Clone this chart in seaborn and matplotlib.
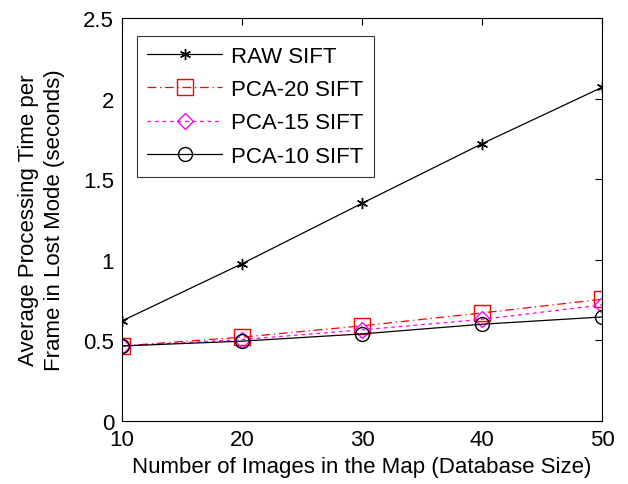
import matplotlib
matplotlib.use("Agg")
import matplotlib.pyplot as plt
import seaborn as sns
import pandas as pd

x_vals = [10, 20, 30, 40, 50]
raw_sift = [0.62, 0.975, 1.35, 1.72, 2.07]
pca20_sift = [0.465, 0.52, 0.59, 0.67, 0.755]
pca15_sift = [0.465, 0.505, 0.565, 0.63, 0.72]
pca10_sift = [0.465, 0.495, 0.54, 0.60, 0.645]
labels = ["RAW SIFT", "PCA-20 SIFT", "PCA-15 SIFT", "PCA-10 SIFT"]
x_ticks = [10, 20, 30, 40, 50]
y_ticks = [0, 0.5, 1, 1.5, 2, 2.5]

FS = 16
sns.set_style("white")
plt.rcParams['font.family'] = ['Liberation Sans', 'DejaVu Sans']
plt.rcParams['font.size'] = FS
plt.rcParams['text.color'] = 'black'
plt.rcParams['axes.labelcolor'] = 'black'

fig = plt.figure(figsize=(6.28, 4.85), dpi=100)
ax = fig.add_axes([0.194, 0.130, 0.765, 0.831])

series = [raw_sift, pca20_sift, pca15_sift, pca10_sift]
styles = [
    dict(color="black", marker=(6, 2, 0), linestyle="-", markersize=8, mfc="black"),
    dict(color="red", marker="s", linestyle=(0, (7, 3, 1, 3)), markersize=11, mfc="none"),
    dict(color="magenta", marker="D", linestyle=(0, (3, 3)), markersize=8, mfc="none"),
    dict(color="black", marker="o", linestyle="-", markersize=10, mfc="none"),
]
for vals, lab, st in zip(series, labels, styles):
    df = pd.DataFrame({"x": x_vals, "y": vals})
    sns.lineplot(data=df, x="x", y="y", ax=ax, label=lab, linewidth=0.9,
                 markeredgewidth=1.0, mec=st["color"], **st)

ax.set_xlim(10, 50)
ax.set_ylim(0, 2.5)
ax.set_xticks(x_ticks)
ax.set_xticklabels([str(v) for v in x_ticks])
ax.set_yticks(y_ticks)
ax.set_yticklabels(["0", "0.5", "1", "1.5", "2", "2.5"])
ax.tick_params(direction="in", top=True, right=True, length=5, width=0.8,
               labelsize=FS, colors="black", labelcolor="black")
ax.tick_params(axis="y", pad=5.5)
ax.tick_params(axis="x", pad=6)
for s in ax.spines.values():
    s.set_color("black")
    s.set_linewidth(0.8)
ax.set_xlabel("Number of Images in the Map (Database Size)", fontsize=FS, labelpad=4, color="black")
ax.set_ylabel("Average Processing Time per\nFrame in Lost Mode (seconds)", fontsize=FS,
              labelpad=13, color="black", linespacing=1.3)

leg = ax.legend(loc="upper left", bbox_to_anchor=(15 / 480, 1 - 18 / 403), frameon=True,
                fancybox=False, edgecolor="black", fontsize=FS, handlelength=3.4,
                borderpad=0.45, labelspacing=0.55, handletextpad=0.4, borderaxespad=0)
leg.get_frame().set_linewidth(0.8)
for t in leg.get_texts():
    t.set_color("black")

fig.savefig("out.png", dpi=100)
